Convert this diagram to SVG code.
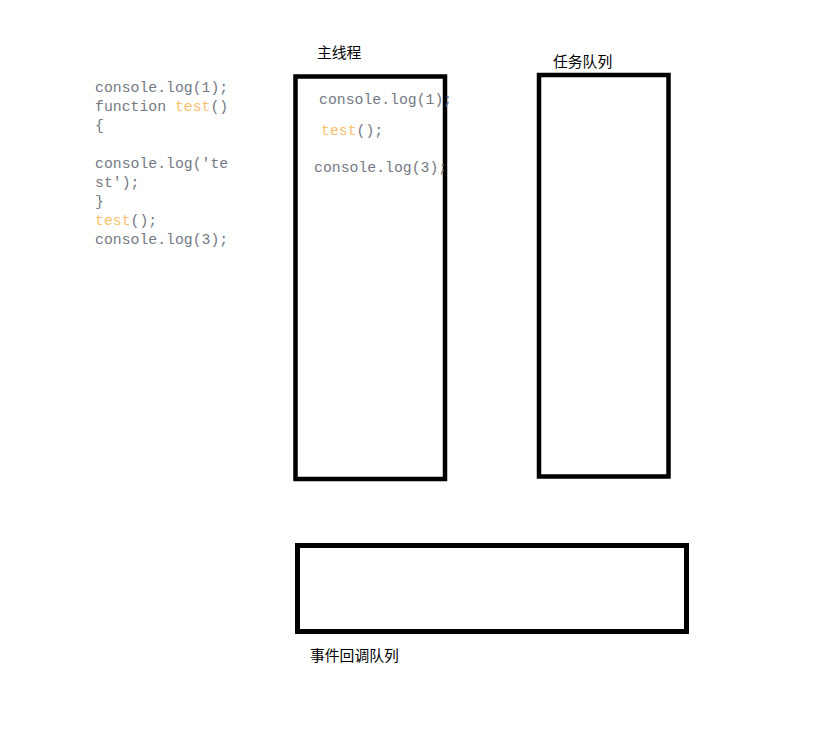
<svg xmlns="http://www.w3.org/2000/svg" width="839" height="733" viewBox="0 0 839 733">
<style>
.box{fill:none;stroke:#000;}
.code{font-family:"Liberation Mono","DejaVu Sans Mono",monospace;font-size:14.8px;fill:#747983;}
.fn{fill:#f9c06b;}
.label{font-family:"Liberation Sans","Noto Sans CJK SC",sans-serif;font-size:14.8px;fill:#000;}
</style>
<rect width="839" height="733" fill="#fff"/>
<g id="source-code">
<text class="code" x="95" y="92">console.log(1);</text>
<text class="code" x="95" y="111">function <tspan class="fn">test</tspan>()</text>
<text class="code" x="95" y="130">{</text>
<text class="code" x="95" y="168">console.log('te</text>
<text class="code" x="95" y="187">st');</text>
<text class="code" x="95" y="206">}</text>
<text class="code" x="95" y="225"><tspan class="fn">test</tspan>();</text>
<text class="code" x="95" y="244">console.log(3);</text>
</g>
<g id="main-thread">
<rect class="box" x="295.5" y="76.5" width="149.5" height="402.5" stroke-width="4.5"/>
<text class="label" x="317" y="58">主线程</text>
<text class="code" x="319" y="104">console.log(1);</text>
<text class="code" x="321" y="135"><tspan class="fn">test</tspan>();</text>
<text class="code" x="314" y="172">console.log(3);</text>
</g>
<g id="task-queue">
<rect class="box" x="539" y="75" width="129.5" height="401.5" stroke-width="4.5"/>
<text class="label" x="553" y="67">任务队列</text>
</g>
<g id="event-callback-queue">
<rect class="box" x="297.5" y="545.5" width="389" height="86" stroke-width="5"/>
<text class="label" x="310" y="661">事件回调队列</text>
</g>
<g id="connectors"></g>
</svg>
